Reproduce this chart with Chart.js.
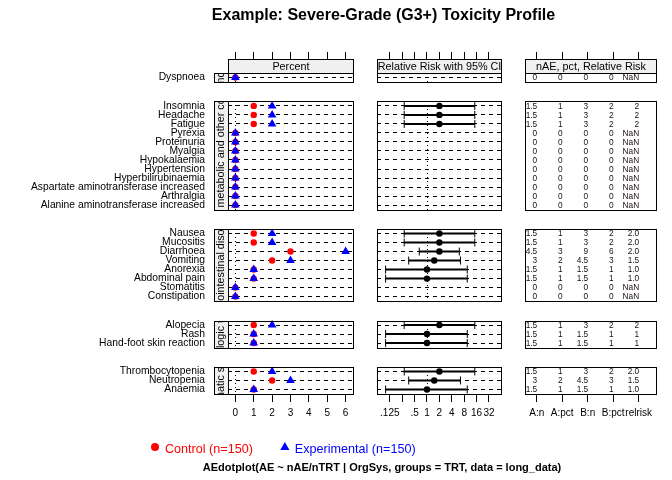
<!DOCTYPE html>
<html>
<head>
<meta charset="utf-8">
<script src="https://cdn.jsdelivr.net/npm/chart.js@4.4.1/dist/chart.umd.min.js"></script>
<style>
  html, body { margin: 0; padding: 0; background: #fff; }
  #wrap { position: relative; width: 672px; height: 480px; }
  #wrap canvas { position: absolute; left: 0; top: 0; }
</style>
</head>
<body>
<div id="wrap">
  <canvas id="pctChart" width="672" height="480"></canvas>
  <canvas id="rrChart" width="672" height="480"></canvas>
  <canvas id="tabChart" width="672" height="480"></canvas>
</div>
<script>
/* ── Data ── */
const groupNames = [
  'Respiratory, thoracic and mediastinal disorders',
  'General, metabolic and other conditions',
  'Gastrointestinal disorders',
  'Dermatologic toxicities',
  'Blood and lymphatic system disorders'
];
const groupSizes = [1, 12, 8, 3, 3];

const aeTerms = [
  'Dyspnoea',
  'Insomnia', 'Headache', 'Fatigue', 'Pyrexia', 'Proteinuria', 'Myalgia', 'Hypokalaemia',
  'Hypertension', 'Hyperbilirubinaemia', 'Aspartate aminotransferase increased', 'Arthralgia',
  'Alanine aminotransferase increased',
  'Nausea', 'Mucositis', 'Diarrhoea', 'Vomiting', 'Anorexia', 'Abdominal pain', 'Stomatitis', 'Constipation',
  'Alopecia', 'Rash', 'Hand-foot skin reaction',
  'Thrombocytopenia', 'Neutropenia', 'Anaemia'
];

const pctControl      = [0, 1, 1, 1, 0, 0, 0, 0, 0, 0, 0, 0, 0, 1, 1, 3, 2, 1, 1, 0, 0, 1, 1, 1, 1, 2, 1];
const pctExperimental = [0, 2, 2, 2, 0, 0, 0, 0, 0, 0, 0, 0, 0, 2, 2, 6, 3, 1, 1, 0, 0, 2, 1, 1, 2, 3, 1];

const rrEst  = [null, 2, 2, 2, null, null, null, null, null, null, null, null, null,
                2, 2, 2, 1.5, 1, 1, null, null, 2, 1, 1, 2, 1.5, 1];
const rrLow  = [null, 0.28, 0.28, 0.28, null, null, null, null, null, null, null, null, null,
                0.28, 0.28, 0.65, 0.36, 0.099, 0.099, null, null, 0.28, 0.099, 0.099, 0.28, 0.36, 0.099];
const rrHigh = [null, 14.5, 14.5, 14.5, null, null, null, null, null, null, null, null, null,
                14.5, 14.5, 6.1, 6.5, 9.5, 9.5, null, null, 14.5, 9.5, 9.5, 14.5, 6.5, 9.5];

const colAn   = ['0', '1.5', '1.5', '1.5', '0', '0', '0', '0', '0', '0', '0', '0', '0',
                 '1.5', '1.5', '4.5', '3', '1.5', '1.5', '0', '0', '1.5', '1.5', '1.5', '1.5', '3', '1.5'];
const colApct = ['0', '1', '1', '1', '0', '0', '0', '0', '0', '0', '0', '0', '0',
                 '1', '1', '3', '2', '1', '1', '0', '0', '1', '1', '1', '1', '2', '1'];
const colBn   = ['0', '3', '3', '3', '0', '0', '0', '0', '0', '0', '0', '0', '0',
                 '3', '3', '9', '4.5', '1.5', '1.5', '0', '0', '3', '1.5', '1.5', '3', '4.5', '1.5'];
const colBpct = ['0', '2', '2', '2', '0', '0', '0', '0', '0', '0', '0', '0', '0',
                 '2', '2', '6', '3', '1', '1', '0', '0', '2', '1', '1', '2', '3', '1'];
const colRR   = ['NaN', '2', '2', '2', 'NaN', 'NaN', 'NaN', 'NaN', 'NaN', 'NaN', 'NaN', 'NaN', 'NaN',
                 '2.0', '2.0', '2.0', '1.5', '1.0', '1.0', 'NaN', 'NaN', '2', '1', '1', '2.0', '1.5', '1.0'];

const pctTicks      = [0, 1, 2, 3, 4, 5, 6];
const rrTicks       = [0.125, 0.25, 0.5, 1, 2, 4, 8, 16, 32];
const rrTickLabels  = ['.125', '', '.5', '1', '2', '4', '8', '16', '32'];
const tabTicks      = [1, 2, 3, 4, 5];
const tabTickLabels = ['A:n', 'A:pct', 'B:n', 'B:pct', 'relrisk'];

/* ── Style ── */
const RED      = '#FF0000';
const BLUE     = '#0000FF';
const BLACK    = '#000000';
const STRIP_BG = '#F0F0F0';
const FONT     = "'Liberation Sans', Arial, sans-serif";

Chart.defaults.font.family = FONT;
Chart.defaults.color = BLACK;
Chart.defaults.animation = false;

/* ── Row layout (y units: one row = 1) ── */
const GAP = 2.15;     // space between panels
const STRIP = 1.55;   // top strip height
const rowPos = [];
const panels = [];
let pos = 0;
groupSizes.forEach(n => {
  panels.push([pos, pos + n]);
  for (let k = 0; k < n; k++) rowPos.push(pos + k + 0.5);
  pos += n + GAP;
});
const yMax = pos - GAP;

/* ── Lattice decorations: strips, panel boxes, reference lines, table text ── */
function box(ctx, x0, y0, x1, y1, fill) {
  if (fill) { ctx.fillStyle = fill; ctx.fillRect(x0, y0, x1 - x0, y1 - y0); }
  ctx.strokeStyle = BLACK;
  ctx.lineWidth = 1;
  ctx.setLineDash([]);
  ctx.strokeRect(x0 + 0.5, y0 + 0.5, x1 - x0, y1 - y0);
}

function clippedText(ctx, text, x0, y0, x1, y1, rotate) {
  ctx.save();
  ctx.beginPath();
  ctx.rect(x0 + 1, y0 + 1, x1 - x0 - 1, y1 - y0 - 1);
  ctx.clip();
  ctx.translate((x0 + x1) / 2 + 0.5, (y0 + y1) / 2 + 1);
  if (rotate) ctx.rotate(-Math.PI / 2);
  ctx.fillStyle = BLACK;
  ctx.font = '10.8px ' + FONT;
  ctx.textAlign = 'center';
  ctx.textBaseline = 'middle';
  ctx.fillText(text, 0, 0);
  ctx.restore();
}

function drawAnnotations(chart) {
  const ctx = chart.ctx;
  ctx.fillStyle = BLACK;
  ctx.textAlign = 'center';
  ctx.textBaseline = 'middle';
  ctx.font = 'bold 16px ' + FONT;
  ctx.fillText('Example: Severe-Grade (G3+) Toxicity Profile', 383.5, 16);
  ctx.font = 'bold 11px ' + FONT;
  ctx.fillText('AEdotplot(AE ~ nAE/nTRT | OrgSys, groups = TRT, data = long_data)', 382, 468);

  // key
  ctx.font = '12.6px ' + FONT;
  ctx.textAlign = 'left';
  let lx = 151;
  chart.data.datasets.forEach(ds => {
    const cx = lx + 4, cy = 447;
    ctx.fillStyle = ds.backgroundColor;
    ctx.beginPath();
    if (ds.pointStyle === 'triangle') {
      ctx.moveTo(cx, cy - 5);
      ctx.lineTo(cx + 4.6, cy + 3);
      ctx.lineTo(cx - 4.6, cy + 3);
      ctx.closePath();
    } else {
      ctx.arc(cx, cy, 4, 0, Math.PI * 2);
    }
    ctx.fill();
    ctx.fillText(ds.label, lx + 14, 449.5);
    lx += 14 + ctx.measureText(ds.label).width + 28;
  });
}

const latticePlugin = {
  id: 'lattice',
  beforeDatasetsDraw(chart, args, opts) {
    if (opts.refLine == null) return;
    const { ctx, scales: { x, y } } = chart;
    const px = Math.round(x.getPixelForValue(opts.refLine)) + 0.5;
    ctx.save();
    ctx.strokeStyle = BLACK;
    ctx.lineWidth = 1;
    ctx.setLineDash([1, 3]);
    panels.forEach(([a, b]) => {
      ctx.beginPath();
      ctx.moveTo(px, Math.round(y.getPixelForValue(a)));
      ctx.lineTo(px, Math.round(y.getPixelForValue(b)));
      ctx.stroke();
    });
    ctx.restore();
  },
  afterDraw(chart, args, opts) {
    const { ctx, chartArea: ca, scales: { x, y } } = chart;
    const L = Math.round(ca.left), R = Math.round(ca.right), T = Math.round(ca.top);
    const yp = v => Math.round(y.getPixelForValue(v));
    ctx.save();

    if (opts.table) {
      ctx.fillStyle = '#1a1010';
      ctx.font = '8.3px ' + FONT;
      ctx.textAlign = 'right';
      ctx.textBaseline = 'middle';
      opts.table.forEach((col, j) => {
        const tx = x.getPixelForValue(tabTicks[j]) + 0.5;
        col.forEach((txt, i) => ctx.fillText(txt, tx, y.getPixelForValue(rowPos[i]) + 0.5));
      });
    }

    box(ctx, L, T, R, yp(0), STRIP_BG);
    clippedText(ctx, opts.header, L, T, R, yp(0), false);

    panels.forEach(([a, b], g) => {
      const top = yp(a), bot = yp(b);
      if (opts.sideStrip) {
        const sL = L - opts.sideStrip;
        box(ctx, sL, top, L, bot, STRIP_BG);
        clippedText(ctx, groupNames[g], sL, top, L, bot, true);
        box(ctx, sL, top, R, bot, null);
      } else {
        box(ctx, L, top, R, bot, null);
      }
    });

    if (opts.annotate) drawAnnotations(chart);
    ctx.restore();
  }
};

/* ── Shared scale builders ── */
function xAxes(type, min, max, ticks, labels) {
  const build = s => { s.ticks = ticks.map(v => ({ value: v })); };
  const tickGrid = len => ({ drawOnChartArea: false, drawTicks: true, tickLength: len, color: BLACK, lineWidth: 1 });
  return {
    x: {
      type, min, max, bounds: 'data', position: 'bottom',
      afterBuildTicks: build,
      afterFit: s => { s.height = 32; s.paddingLeft = 0; s.paddingRight = 0; },
      grid: tickGrid(8),
      border: { display: false },
      ticks: {
        autoSkip: false, maxRotation: 0, minRotation: 0, padding: 5,
        font: { size: 10 }, color: BLACK,
        callback: (v, i) => labels[i]
      }
    },
    xTop: {
      type, min, max, bounds: 'data', position: 'top',
      afterBuildTicks: build,
      afterFit: s => { s.height = 7; s.paddingLeft = 0; s.paddingRight = 0; },
      grid: tickGrid(7),
      border: { display: false },
      ticks: { display: false }
    }
  };
}

function yAxis(opts) {
  return {
    type: 'linear', reverse: true, min: -STRIP, max: yMax, bounds: 'data',
    afterBuildTicks: s => { s.ticks = rowPos.map(v => ({ value: v })); },
    afterFit: s => { s.width = opts.width; s.paddingTop = 0; s.paddingBottom = 0; },
    grid: { display: opts.rules, drawTicks: false, color: BLACK, lineWidth: 1 },
    border: { display: false, dash: [4, 4] },
    ticks: {
      display: !!opts.labels, autoSkip: false, padding: 23,
      font: { size: 10.3 }, color: BLACK,
      callback: (v, i) => opts.labels ? opts.labels[i] : ''
    }
  };
}

const baseOptions = (padding, scales, lattice) => ({
  responsive: false,
  animation: false,
  events: [],
  layout: { padding },
  plugins: { legend: { display: false }, tooltip: { enabled: false }, lattice },
  scales
});

/* ── Percent panel column ── */
new Chart(document.getElementById('pctChart'), {
  type: 'scatter',
  data: {
    datasets: [
      {
        label: 'Control (n=150)',
        data: pctControl.map((v, i) => ({ x: v, y: rowPos[i] })),
        pointStyle: 'circle',
        pointRadius: 3.2,
        pointBorderWidth: 0,
        backgroundColor: RED,
        borderColor: RED,
        order: 1
      },
      {
        label: 'Experimental (n=150)',
        data: pctExperimental.map((v, i) => ({ x: v, y: rowPos[i] })),
        pointStyle: 'triangle',
        pointRadius: 5,
        pointBorderWidth: 0,
        backgroundColor: BLUE,
        borderColor: BLUE,
        order: 0
      }
    ]
  },
  options: baseOptions(
    { left: 0, top: 52, right: 319, bottom: 54 },
    { ...xAxes('linear', -0.4, 6.4, pctTicks, pctTicks.map(String)),
      y: yAxis({ width: 228, rules: true, labels: aeTerms }) },
    { header: 'Percent', refLine: 0, sideStrip: 14, annotate: true }
  ),
  plugins: [latticePlugin]
});

/* ── Relative risk column ── */
const ciData = [];
rrEst.forEach((v, i) => {
  if (v == null) return;
  ciData.push({ x: rrLow[i], y: rowPos[i] }, { x: rrHigh[i], y: rowPos[i] }, { x: null, y: null });
});

new Chart(document.getElementById('rrChart'), {
  type: 'scatter',
  data: {
    datasets: [
      {
        label: 'Relative risk',
        data: rrEst.map((v, i) => ({ x: v, y: v == null ? null : rowPos[i] })),
        pointStyle: 'circle',
        pointRadius: 3.2,
        pointBorderWidth: 0,
        backgroundColor: BLACK,
        order: 0
      },
      {
        label: '95% CI',
        data: ciData,
        showLine: true,
        spanGaps: false,
        borderColor: BLACK,
        borderWidth: 2,
        pointStyle: 'line',
        pointRotation: 90,
        pointRadius: 4,
        pointBorderWidth: 1,
        pointBorderColor: BLACK,
        order: 1
      }
    ]
  },
  options: baseOptions(
    { left: 377, top: 52, right: 171, bottom: 54 },
    { ...xAxes('logarithmic', Math.pow(2, -4.03), Math.pow(2, 5.97), rrTicks, rrTickLabels),
      y: yAxis({ width: 0, rules: true }) },
    { header: 'Relative Risk with 95% CI', refLine: 1 }
  ),
  plugins: [latticePlugin]
});

/* ── Count / percent / relative risk table column ── */
new Chart(document.getElementById('tabChart'), {
  type: 'scatter',
  data: { datasets: [] },
  options: baseOptions(
    { left: 525, top: 52, right: 16, bottom: 54 },
    { ...xAxes('linear', 0.54, 5.68, tabTicks, tabTickLabels),
      y: yAxis({ width: 0, rules: false }) },
    { header: 'nAE, pct, Relative Risk', table: [colAn, colApct, colBn, colBpct, colRR] }
  ),
  plugins: [latticePlugin]
});
</script>
</body>
</html>
